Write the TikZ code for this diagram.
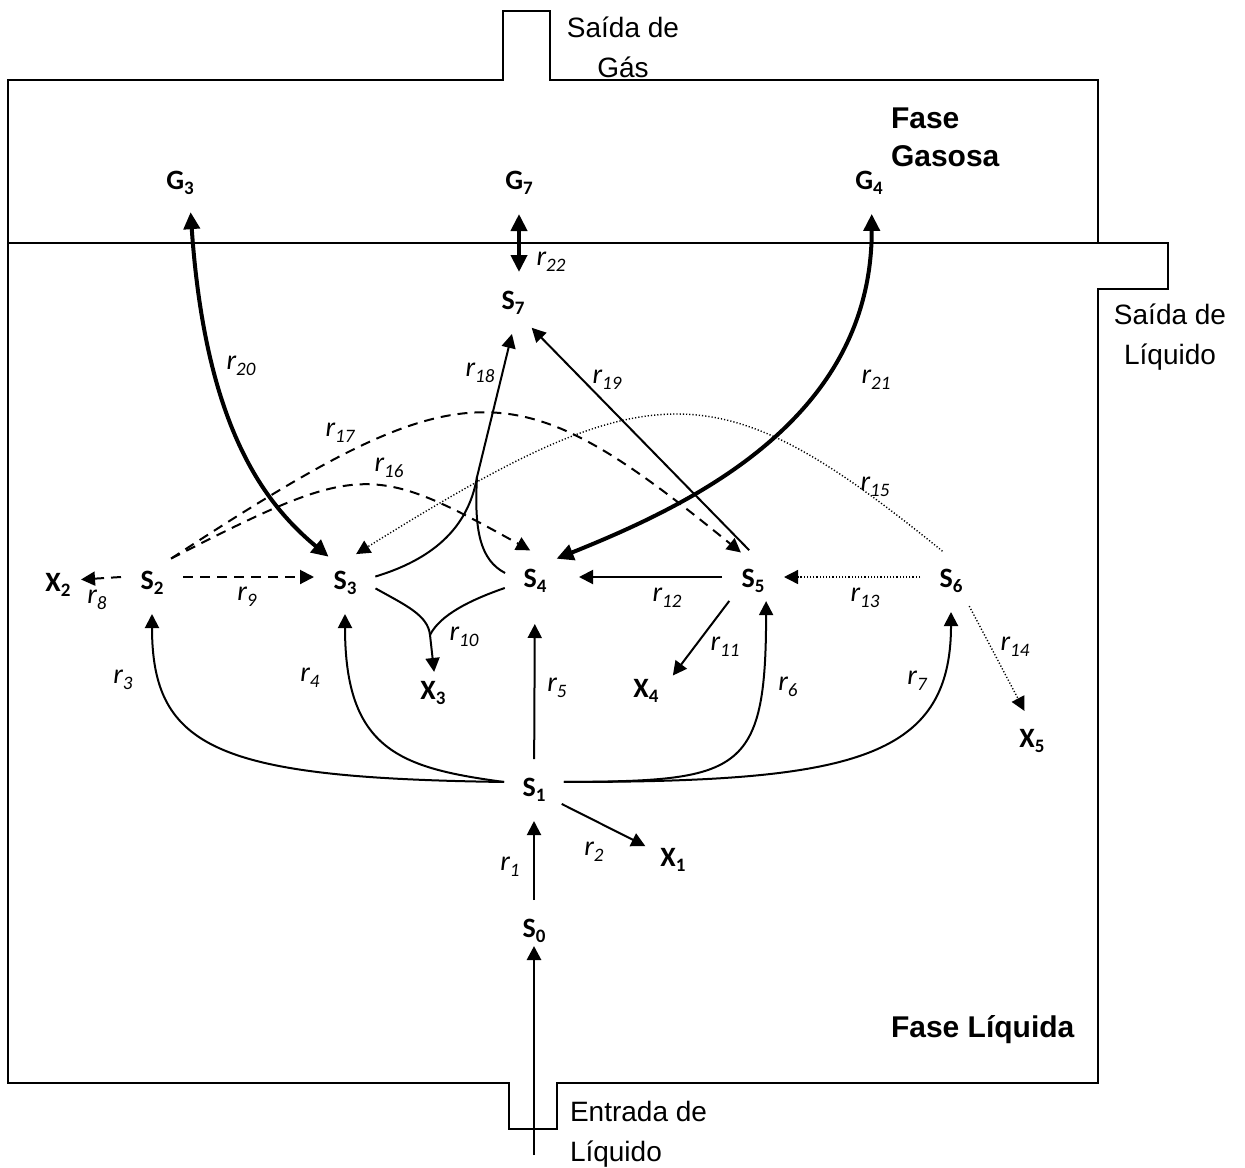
\documentclass[tikz,border=0pt]{standalone}
\usepackage{fontspec}
\setmainfont{Liberation Sans}
\newfontfamily\calfont{Carlito}
\usepackage{tikz}
\usetikzlibrary{arrows.meta,calc,positioning}
\newcommand{\low}[1]{\raisebox{-2.8pt}{\fontsize{9.5}{9.5}\selectfont #1}}

\begin{document}
\begin{tikzpicture}[x=0.5pt,y=-0.5pt,>={Triangle[length=7pt,width=7pt]},line width=1pt]

   \tikzstyle{spec}=[circle,minimum size=30pt,inner sep=0pt,font=\calfont\bfseries\fontsize{14}{16}\selectfont]
   \tikzstyle{rate}=[inner sep=0pt,font=\calfont\itshape\fontsize{14}{16}\selectfont]
   \tikzstyle{note}=[inner sep=0pt,font=\fontsize{14}{20}\selectfont]
   \tikzstyle{phase}=[inner sep=0pt,align=left,font=\bfseries\fontsize{15}{19}\selectfont]
   \tikzstyle{wall}=[line width=1pt]
   \tikzstyle{flux}=[->,line width=1pt]
   \tikzstyle{gasflux}=[<->,line width=2pt,>={Triangle[length=8.5pt,width=8pt]}]
   \tikzstyle{dflux}=[->,line width=1pt,dash pattern=on 5pt off 3.5pt]
   \tikzstyle{pflux}=[->,line width=0.7pt,dash pattern=on 0.6pt off 1pt]

   \useasboundingbox (0,0) rectangle (1245,1167);

   % reactor: gas phase and liquid phase
   \draw[wall] (8,243) -- (8,80) -- (503,80) -- (503,11) -- (550,11) -- (550,80) -- (1098,80) -- (1098,243);
   \draw[wall] (8,243) -- (1168,243) -- (1168,289) -- (1098,289) -- (1098,1083) -- (557,1083)
        -- (557,1129) -- (509,1129) -- (509,1083) -- (8,1083) -- cycle;

   \node[note,align=center,anchor=north] (gasout) at (623,16) {Saída de\\Gás};
   \node[note,align=center,anchor=north] (liqout) at (1170,303) {Saída de\\Líquido};
   \node[note,align=left,anchor=north west] (liqin) at (569,1100) {Entrada de\\Líquido};
   \node[phase,anchor=north west] (gasph) at (890,107) {Fase\\Gasosa};
   \node[phase,anchor=base west] (liqph) at (890,1037) {Fase Líquida};

   % species
   \node[spec] (G3) at (180,183) {G\low{3}};
   \node[spec] (G7) at (519,183) {G\low{7}};
   \node[spec] (G4) at (869,183) {G\low{4}};
   \node[spec] (S7) at (513,303) {S\low{7}};
   \node[spec] (X2) at (58,585) {X\low{2}};
   \node[spec] (S2) at (152,583) {S\low{2}};
   \node[spec] (S3) at (345,583) {S\low{3}};
   \node[spec] (S4) at (535,581) {S\low{4}};
   \node[spec] (S5) at (753,581) {S\low{5}};
   \node[spec] (S6) at (951,581) {S\low{6}};
   \node[spec] (X3) at (433,693) {X\low{3}};
   \node[spec] (X4) at (646,691) {X\low{4}};
   \node[spec] (X5) at (1032,741) {X\low{5}};
   \node[spec] (S1) at (534,790) {S\low{1}};
   \node[spec] (X1) at (673,860) {X\low{1}};
   \node[spec] (S0) at (534,931) {S\low{0}};

   % rates
   \node[rate] (l1) at (510,867) {r\low{1}};
   \node[rate] (l2) at (594,852) {r\low{2}};
   \node[rate] (l3) at (123,680) {r\low{3}};
   \node[rate] (l4) at (310,678) {r\low{4}};
   \node[rate] (l5) at (557,688) {r\low{5}};
   \node[rate] (l6) at (788,687) {r\low{6}};
   \node[rate] (l7) at (917,681) {r\low{7}};
   \node[rate] (l8) at (97,600) {r\low{8}};
   \node[rate] (l9) at (247,597) {r\low{9}};
   \node[rate] (l10) at (464,637) {r\low{10}};
   \node[rate] (l11) at (725,647) {r\low{11}};
   \node[rate] (l12) at (667,598) {r\low{12}};
   \node[rate] (l13) at (865,598) {r\low{13}};
   \node[rate] (l14) at (1015,647) {r\low{14}};
   \node[rate] (l15) at (875,487) {r\low{15}};
   \node[rate] (l16) at (389,468) {r\low{16}};
   \node[rate] (l17) at (340,433) {r\low{17}};
   \node[rate] (l18) at (480,373) {r\low{18}};
   \node[rate] (l19) at (607,380) {r\low{19}};
   \node[rate] (l20) at (241,366) {r\low{20}};
   \node[rate] (l21) at (876,380) {r\low{21}};
   \node[rate] (l22) at (551,262) {r\low{22}};

   % feed
   \coordinate (feed) at (534,1155);
   \draw[->,line width=1.4pt,shorten >=-8pt] (feed) -- (S0.south);

   \draw[flux] (S0) -- (S1);
   \draw[flux] (S1) -- (X1);
   \draw[flux,shorten >=6pt] (S1) -- (S4);
   \draw[flux] (S1.165) .. controls (220,778) and (152,750) .. (S2.south);
   \draw[flux] (S1.165) .. controls (400,768) and (345,750) .. (S3.south);
   \draw[flux,shorten >=-4pt] (S1.15) .. controls (740,781) and (766,775) .. (S5.-65);
   \draw[flux] (S1.15) .. controls (850,782) and (951,760) .. (S6.south);

   \draw[dflux,shorten >=-4pt] ([yshift=3pt]S2.west) -- ([yshift=3pt]X2.east);
   \draw[dflux] ([yshift=3pt]S2.east) -- ([yshift=3pt]S3.west);
   \draw[dflux] (S2.52) .. controls (360,462) and (371,462) .. (S4.99);
   \draw[dflux] (S2.52) .. controls (466,366) and (512,366) .. (S5.113);

   \draw[pflux] (S6.106) .. controls (718,369) and (653,369) .. (S3.69);
   \draw[pflux] ([yshift=2pt]S6.west) -- ([yshift=2pt]S5.east);
   \draw[pflux] (S6.-54) -- (X5.104);

   \draw[flux,shorten >=6.5pt] ([yshift=2pt]S5.west) -- ([yshift=2pt]S4.east);
   \draw[flux] (S5.-140) -- (X4.30);

   % r10
   \coordinate (j10) at (430,635);
   \draw (S3.-10) .. controls (405,605) and (428,615) .. (j10);
   \draw (S4.193) .. controls (470,600) and (440,615) .. (j10);
   \draw[flux,shorten >=-5pt] (j10) -- (X3.north);

   % r18
   \coordinate (j18) at (477,477);
   \draw (S3.12) .. controls (430,560) and (468,530) .. (j18);
   \draw (S4.165) .. controls (480,560) and (474,530) .. (j18);
   \draw[flux] (j18) -- (S7.-92);

   \draw[flux] (S5.97) -- (S7.-53);

   % gas transfer
   \draw[gasflux] (S3.122) .. controls (260,500) and (205,420) .. (G3.-70);
   \draw[gasflux] (S4.46) .. controls (690,505) and (872,420) .. (G4.-85);
   \draw[gasflux] (G7.south) -- (G7.south |- S7.north);

\end{tikzpicture}
\end{document}
